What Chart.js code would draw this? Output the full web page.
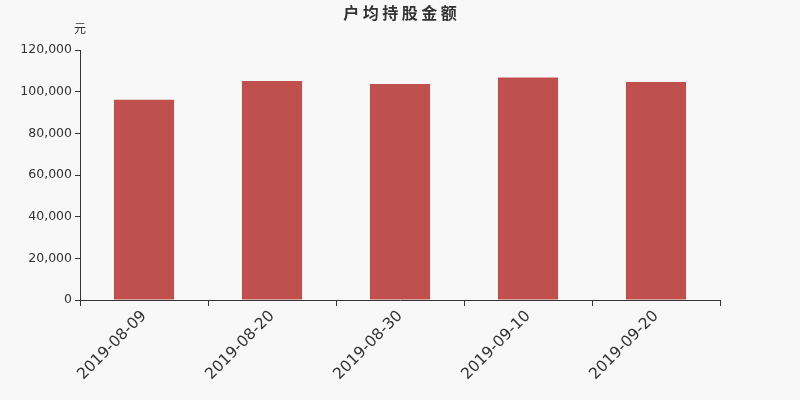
<!DOCTYPE html>
<html>
<head>
<meta charset="utf-8">
<script src="https://cdn.jsdelivr.net/npm/chart.js@4"></script>
<style>
  html, body { margin: 0; padding: 0; background: #f8f8f8; }
  #wrap { width: 800px; height: 400px; }
</style>
</head>
<body>
<div id="wrap"><canvas id="chart"></canvas></div>
<script>
// 户均持股金额 data
var categories = ['2019-08-09', '2019-08-20', '2019-08-30', '2019-09-10', '2019-09-20'];
var amounts = [96100, 105100, 103700, 106800, 104600];
var yTicks = [0, 20000, 40000, 60000, 80000, 100000, 120000];
var titleText = '户均持股金额';

var headerText = {
	id : 'headerText',
	afterDraw : function(chart) {
		var ctx = chart.ctx;
		ctx.save();
		ctx.fillStyle = '#333';
		ctx.textBaseline = 'middle';
		ctx.textAlign = 'center';
		// title chars are spaced out a bit
		ctx.font = 'bold 16px "Noto Sans CJK SC", sans-serif';
		var step = 19.5;
		var x0 = 400 - step * (titleText.length - 1) / 2;
		for (var i = 0; i < titleText.length; i++) {
			ctx.fillText(titleText[i], x0 + i * step, 13);
		}
		ctx.font = '12px "Noto Sans CJK SC", sans-serif';
		ctx.fillText('元', chart.chartArea.left, 28);
		ctx.restore();
	}
};

var config = {
	type : 'bar',
	data : {
		labels : categories,
		datasets : [ {
			data : amounts,
			backgroundColor : '#c0504d',
			barPercentage : 0.47,
			categoryPercentage : 1
		} ]
	},
	options : {
		responsive : true,
		maintainAspectRatio : false,
		animation : false,
		layout : {
			padding : { top : 50, right : 80, left : 0, bottom : 0 }
		},
		plugins : {
			legend : { display : false },
			title : { display : false },
			tooltip : { enabled : false }
		},
		scales : {
			x : {
				offset : true,
				grid : {
					offset : true,
					drawOnChartArea : false,
					tickLength : 6,
					color : '#333'
				},
				border : { color : '#333' },
				ticks : {
					color : '#333',
					font : { family : 'DejaVu Sans', size : 15.5 },
					maxRotation : 45,
					minRotation : 45,
					padding : 1
				},
				afterFit : function(scale) { scale.height = 100; }
			},
			y : {
				min : 0,
				max : 120000,
				afterBuildTicks : function(scale) {
					scale.ticks = yTicks.map(function(v) { return { value : v }; });
				},
				grid : {
					drawOnChartArea : false,
					tickLength : 5,
					color : '#333'
				},
				border : { color : '#333' },
				ticks : {
					color : '#333',
					font : { family : 'DejaVu Sans', size : 12.5 },
					padding : 3
				},
				afterFit : function(scale) { scale.width = 80; }
			}
		}
	},
	plugins : [ headerText ]
};

window.onload = function() {
	var ctx = document.getElementById('chart').getContext('2d');
	window.myBar = new Chart(ctx, config);
};
</script>
</body>
</html>
